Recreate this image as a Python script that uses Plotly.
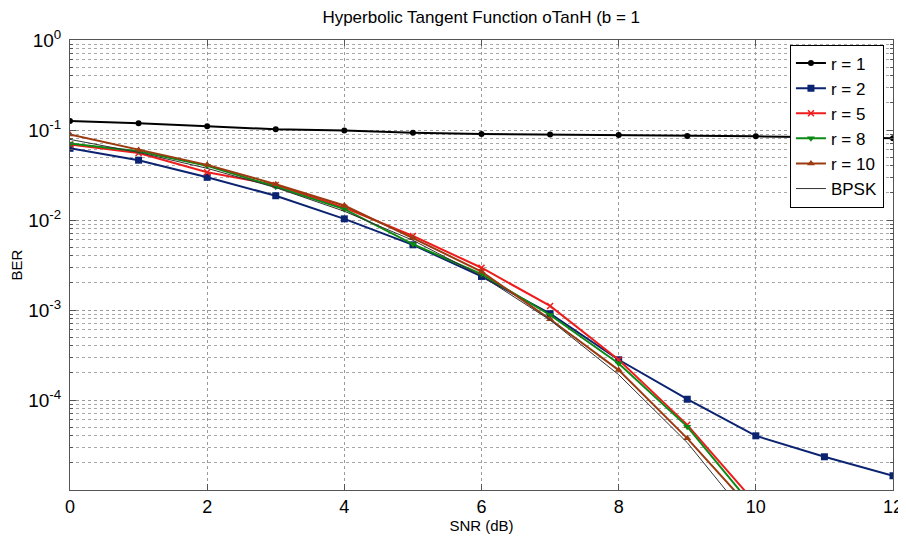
import plotly.graph_objects as go

snr = [0, 1, 2, 3, 4, 5, 6, 7, 8, 9, 10, 11, 12]
snr_short = [0, 1, 2, 3, 4, 5, 6, 7, 8, 9, 10]

ber_r1 = [0.126, 0.119, 0.110, 0.102, 0.099, 0.093, 0.090, 0.089, 0.088, 0.086, 0.085, 0.083, 0.081]
ber_r2 = [0.0626, 0.0462, 0.0298, 0.0186, 0.0103, 0.0053, 0.00236, 9.1e-4, 2.8e-4, 1.02e-4, 4.0e-5, 2.34e-5, 1.44e-5]
ber_r5 = [0.069, 0.0555, 0.034, 0.0245, 0.0137, 0.00664, 0.00295, 0.00111, 2.8e-4, 5.3e-5, 7.1e-6]
ber_r8 = [0.071, 0.058, 0.040, 0.0234, 0.0132, 0.0054, 0.0025, 8.8e-4, 2.55e-4, 5.06e-5, 6.0e-6]
ber_r10 = [0.089, 0.060, 0.041, 0.0250, 0.0145, 0.0063, 0.00267, 7.9e-4, 2.15e-4, 3.75e-5, 5.4e-6]
ber_bpsk = [0.0786, 0.0563, 0.0375, 0.0229, 0.0125, 0.00595, 0.00239, 7.73e-4, 1.91e-4, 3.36e-5, 3.87e-6]

x_ticks = [0, 2, 4, 6, 8, 10, 12]
y_ticks = [1, 0.1, 0.01, 0.001, 0.0001]
y_ticktext = ["10<sup>0</sup>", "10<sup>-1</sup>", "10<sup>-2</sup>", "10<sup>-3</sup>", "10<sup>-4</sup>"]

minor_vals = [m * 10.0 ** e for e in range(-5, 0) for m in range(2, 10)]

FONT = "Liberation Sans, Arial, sans-serif"

fig = go.Figure()
fig.add_trace(go.Scatter(x=snr, y=ber_r1, name="r = 1", mode="lines+markers",
                         line=dict(color="#000000", width=2),
                         marker=dict(symbol="circle", size=6, color="#000000")))
fig.add_trace(go.Scatter(x=snr, y=ber_r2, name="r = 2", mode="lines+markers",
                         line=dict(color="#0b2370", width=2),
                         marker=dict(symbol="square", size=7, color="#0b2370")))
fig.add_trace(go.Scatter(x=snr_short, y=ber_r5, name="r = 5", mode="lines+markers",
                         line=dict(color="#ee1c1c", width=2),
                         marker=dict(symbol="x-thin", size=6, color="#ee1c1c",
                                     line=dict(color="#ee1c1c", width=1.5))))
fig.add_trace(go.Scatter(x=snr_short, y=ber_r8, name="r = 8", mode="lines+markers",
                         line=dict(color="#0c8a14", width=2),
                         marker=dict(symbol="triangle-down", size=7, color="#0c8a14")))
fig.add_trace(go.Scatter(x=snr_short, y=ber_r10, name="r = 10", mode="lines+markers",
                         line=dict(color="#9c3a10", width=2),
                         marker=dict(symbol="triangle-up", size=7, color="#9c3a10")))
fig.add_trace(go.Scatter(x=snr_short, y=ber_bpsk, name="BPSK", mode="lines",
                         line=dict(color="#333333", width=1)))

fig.update_layout(
    width=898, height=528,
    margin=dict(l=62, r=13, t=32, b=46, autoexpand=False),
    paper_bgcolor="white", plot_bgcolor="white",
    font=dict(family=FONT, color="#000000"),
    title=dict(text="Hyperbolic Tangent Function oTanH (b = 1", x=0.527, xanchor="center",
               y=0.983, yanchor="middle", font=dict(size=17, family=FONT)),
    showlegend=True,
    legend=dict(x=0.989, y=0.99, xanchor="right", yanchor="top",
                bgcolor="white", bordercolor="#000000", borderwidth=1,
                font=dict(size=17, family=FONT), tracegroupgap=0,
                itemwidth=30),
)

fig.update_xaxes(
    range=[0, 12], tickvals=x_ticks, ticktext=[str(v) for v in x_ticks],
    automargin=False,
    showline=True, linecolor="#555555", linewidth=1, mirror="ticks",
    ticks="inside", ticklen=6, tickcolor="#555555",
    showgrid=True, gridcolor="#9a9a9a", griddash="dot", gridwidth=1,
    zeroline=False, tickfont=dict(size=18, family=FONT),
    title=dict(text="SNR (dB)", font=dict(size=15, family=FONT), standoff=4),
)
fig.update_yaxes(
    type="log", range=[-5, 0], tickvals=y_ticks, ticktext=y_ticktext,
    automargin=False, ticklabelstandoff=4,
    showline=True, linecolor="#555555", linewidth=1, mirror="ticks",
    ticks="inside", ticklen=6, tickcolor="#555555",
    showgrid=True, gridcolor="#9a9a9a", griddash="dot", gridwidth=1,
    zeroline=False, tickfont=dict(size=19, family=FONT),
    minor=dict(tickvals=minor_vals, ticks="inside", ticklen=3, tickcolor="#555555",
               showgrid=True, gridcolor="#a8a8a8", griddash="dot", gridwidth=1),
    title=dict(text="BER", font=dict(size=15, family=FONT), standoff=2),
)

fig.write_html("out.html")
